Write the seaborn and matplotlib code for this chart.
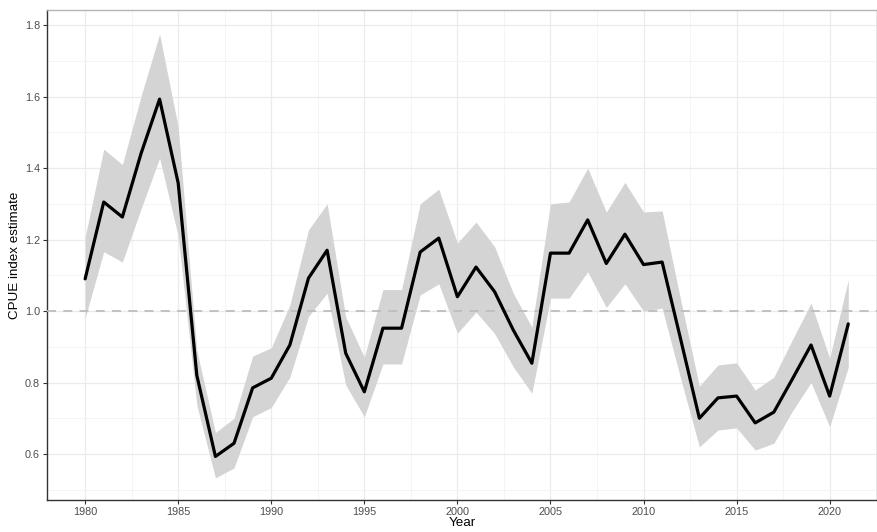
import matplotlib
matplotlib.use("Agg")
import matplotlib.pyplot as plt
import seaborn as sns
import pandas as pd
import numpy as np
from matplotlib.ticker import MultipleLocator

years = list(range(1980, 2022))
estimate = [1.09, 1.305, 1.263, 1.44, 1.593, 1.358, 0.82, 0.593, 0.63, 0.785,
            0.812, 0.905, 1.092, 1.17, 0.882, 0.774, 0.952, 0.952, 1.165, 1.204,
            1.04, 1.123, 1.054, 0.947, 0.854, 1.162, 1.162, 1.255, 1.133, 1.215,
            1.13, 1.137, 0.92, 0.70, 0.757, 0.762, 0.687, 0.717, 0.81, 0.905,
            0.762, 0.964]
upper = [1.207, 1.453, 1.41, 1.60, 1.775, 1.515, 0.89, 0.66, 0.70, 0.874,
         0.897, 1.017, 1.227, 1.30, 0.983, 0.871, 1.06, 1.06, 1.30, 1.341,
         1.19, 1.249, 1.18, 1.05, 0.955, 1.30, 1.305, 1.40, 1.277, 1.36,
         1.277, 1.28, 1.03, 0.79, 0.849, 0.855, 0.779, 0.815, 0.92, 1.022,
         0.868, 1.087]
lower = [0.98, 1.166, 1.137, 1.285, 1.428, 1.21, 0.737, 0.533, 0.561, 0.704,
         0.73, 0.815, 0.985, 1.05, 0.793, 0.704, 0.852, 0.852, 1.045, 1.076,
         0.938, 0.997, 0.937, 0.844, 0.77, 1.036, 1.036, 1.11, 1.01, 1.076,
         1.0, 1.008, 0.81, 0.62, 0.667, 0.673, 0.611, 0.63, 0.72, 0.80,
         0.676, 0.843]
xtick_vals = [1980, 1985, 1990, 1995, 2000, 2005, 2010, 2015, 2020]
ytick_vals = [0.6, 0.8, 1.0, 1.2, 1.4, 1.6, 1.8]
ytick_labels = ["0.6", "0.8", "1.0", "1.2", "1.4", "1.6", "1.8"]

df = pd.DataFrame({"Year": years, "est": estimate, "lo": lower, "hi": upper})

sns.set_theme(style="white")
plt.rcParams['font.family'] = ['Liberation Sans', 'DejaVu Sans']

fig = plt.figure(figsize=(8.78, 5.32), dpi=100)
ax = fig.add_axes([0.0535, 0.06, 0.9455, 0.921])

ax.fill_between(df["Year"], df["lo"], df["hi"], color="#D4D4D4", linewidth=0, zorder=2)
ax.axhline(1.0, color="#BDBDBD", linestyle=(0, (5, 4)), linewidth=1.3, zorder=3)
sns.lineplot(data=df, x="Year", y="est", color="black", linewidth=2.3, ax=ax, zorder=4)

ax.set_xlim(1977.95, 2022.55)
ax.set_ylim(0.471, 1.842)
ax.xaxis.set_minor_locator(MultipleLocator(2.5))
ax.yaxis.set_minor_locator(MultipleLocator(0.1))
ax.set_xticks(xtick_vals)
ax.set_yticks(ytick_vals)
ax.set_yticklabels(ytick_labels)
ax.grid(which="major", color="#EBEBEB", linewidth=0.9, zorder=0)
ax.grid(which="minor", color="#F3F3F3", linewidth=0.6, zorder=0)
ax.set_axisbelow(True)

for side in ["top", "right"]:
    ax.spines[side].set_color("#B5B5B5")
    ax.spines[side].set_linewidth(1.0)
for side in ["left", "bottom"]:
    ax.spines[side].set_color("#333333")
    ax.spines[side].set_linewidth(1.0)

ax.tick_params(which="major", length=3, width=0.8, color="#333333",
               labelsize=7.8, labelcolor="#4D4D4D", pad=2, bottom=True, left=True)
ax.tick_params(which="minor", length=0)

ax.set_xlabel("Year", fontsize=9.6, color="black", labelpad=0)
ax.set_ylabel("CPUE index estimate", fontsize=9.6, color="black", labelpad=3)

fig.savefig("out.png", dpi=100)
